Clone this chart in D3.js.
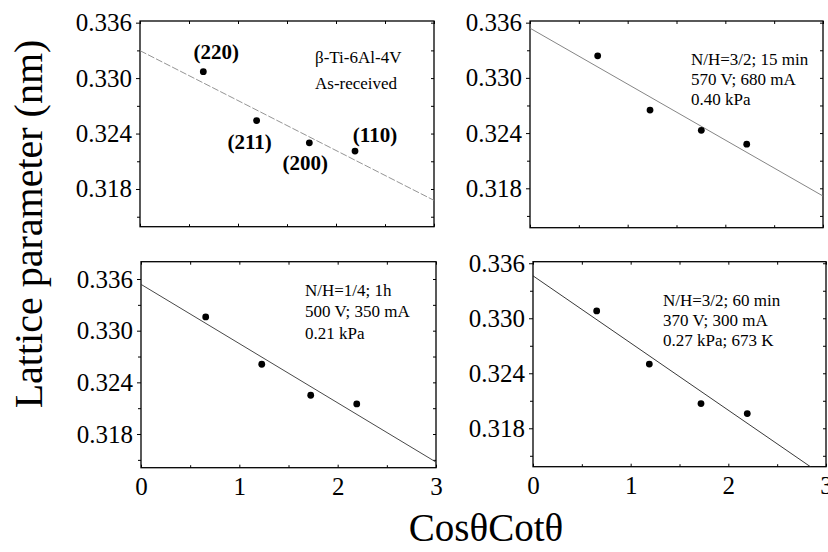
<!DOCTYPE html>
<html>
<head>
<meta charset="utf-8">
<script src="https://cdnjs.cloudflare.com/ajax/libs/d3/7.8.5/d3.min.js"></script>
<style>
  body { margin: 0; background: #fff; }
  svg text { font-family: "Liberation Serif", "Times New Roman", serif; fill: #000; }
</style>
</head>
<body>
<div id="chart"></div>
<script>
// tick values
var xTicks = [0, 1, 2, 3];
var xMinor = [0.5, 1.5, 2.5];
var yTicks = [0.318, 0.324, 0.330, 0.336];
var yMinor = [0.315, 0.321, 0.327, 0.333];

// reflections (only labelled in the as-received panel)
var hkl = ["(220)", "(211)", "(200)", "(110)"];

// CosθCotθ vs lattice parameter, one pair of arrays per sample
var xAsReceived = [0.646, 1.190, 1.728, 2.194];
var yAsReceived = [0.3307, 0.3254, 0.3230, 0.3221];
var x15min = [0.693, 1.229, 1.754, 2.219];
var y15min = [0.3324, 0.3265, 0.3243, 0.3228];
var x1h = [0.658, 1.228, 1.726, 2.194];
var y1h = [0.3316, 0.3261, 0.3225, 0.3215];
var x60min = [0.652, 1.191, 1.720, 2.194];
var y60min = [0.3308, 0.3250, 0.3207, 0.3196];

// linear fits: intercept at CosθCotθ = 0 and slope
var fitIntercept = [0.33297, 0.33540, 0.33538, 0.33463];
var fitSlope = [-0.00540, -0.00608, -0.00688, -0.00733];

// y ranges shown in each panel
var yLow = [0.31392, 0.31372, 0.31409, 0.31381];
var yHigh = [0.33618, 0.33618, 0.33801, 0.33617];

// panel notes
var noteAsReceived = ["β-Ti-6Al-4V", "As-received"];
var note15min = ["N/H=3/2; 15 min", "570 V; 680 mA", "0.40 kPa"];
var note1h = ["N/H=1/4; 1h", "500 V; 350 mA", "0.21 kPa"];
var note60min = ["N/H=3/2; 60 min", "370 V; 300 mA", "0.27 kPa; 673 K"];

var W = 828, H = 552;
var serif = "'Liberation Serif', 'Times New Roman', serif";

var svg = d3.select("#chart")
  .append("svg")
  .attr("width", W)
  .attr("height", H);

var panels = [
  {xs: xAsReceived, ys: yAsReceived, note: noteAsReceived,
   box: {l: 140, r: 434, t: 21, b: 226.7}, noteX: 175, noteY: 42, noteGap: 26,
   dash: "7,2", lineColor: "#888", labels: true, xLabels: false},
  {xs: x15min, ys: y15min, note: note15min,
   box: {l: 530, r: 823, t: 21, b: 227.7}, noteX: 161, noteY: 44, noteGap: 20,
   dash: null, lineColor: "#777", labels: false, xLabels: false},
  {xs: x1h, ys: y1h, note: note1h,
   box: {l: 141, r: 436, t: 261.7, b: 467.7}, noteX: 164, noteY: 34, noteGap: 21.5,
   dash: null, lineColor: "#333", labels: false, xLabels: true},
  {xs: x60min, ys: y60min, note: note60min,
   box: {l: 533, r: 826, t: 261.7, b: 466.7}, noteX: 130, noteY: 44, noteGap: 20,
   dash: null, lineColor: "#222", labels: false, xLabels: true}
];

// baseline offsets of the hkl labels from their dots (px)
var labelOffsets = [[13, -13], [-7, 28], [-4, 27], [20, -9]];

function cleanAxis(g) {
  g.attr("font-family", serif);
  g.select(".domain").remove();
  g.selectAll("line").attr("stroke", "#000").attr("stroke-width", 1);
}

panels.forEach(function(p, i) {
  var b = p.box;
  var x = d3.scaleLinear().domain([0, 3]).range([b.l, b.r]);
  var y = d3.scaleLinear().domain([yLow[i], yHigh[i]]).range([b.b, b.t]);

  var g = svg.append("g");

  svg.append("clipPath")
    .attr("id", "clip" + i)
    .append("rect")
    .attr("x", b.l).attr("y", b.t)
    .attr("width", b.r - b.l).attr("height", b.b - b.t);

  // left axis, labelled
  g.append("g")
    .attr("transform", "translate(" + b.l + ",0)")
    .call(d3.axisLeft(y).tickValues(yTicks).tickSize(4).tickPadding(4)
      .tickFormat(d3.format(".3f")))
    .call(cleanAxis)
    .selectAll("text")
    .style("font-size", "25px");

  g.append("g")
    .attr("transform", "translate(" + b.l + ",0)")
    .call(d3.axisLeft(y).tickValues(yMinor).tickSize(3).tickFormat(""))
    .call(cleanAxis);

  // right axis, inward ticks
  g.append("g")
    .attr("transform", "translate(" + b.r + ",0)")
    .call(d3.axisRight(y).tickValues(yTicks.concat(yMinor)).tickSize(-3).tickFormat(""))
    .call(cleanAxis);

  // top axis
  g.append("g")
    .attr("transform", "translate(0," + b.t + ")")
    .call(d3.axisTop(x).tickValues(xTicks.concat(xMinor)).tickSize(-3).tickFormat(""))
    .call(cleanAxis);

  // bottom axis
  g.append("g")
    .attr("transform", "translate(0," + b.b + ")")
    .call(d3.axisBottom(x).tickValues(xTicks).tickSize(-3).tickPadding(10)
      .tickFormat(p.xLabels ? d3.format("d") : ""))
    .call(cleanAxis)
    .selectAll("text")
    .style("font-size", "25px");

  g.append("g")
    .attr("transform", "translate(0," + b.b + ")")
    .call(d3.axisBottom(x).tickValues(xMinor).tickSize(-2.5).tickFormat(""))
    .call(cleanAxis);

  // frame
  g.append("rect")
    .attr("x", b.l).attr("y", b.t)
    .attr("width", b.r - b.l).attr("height", b.b - b.t)
    .attr("fill", "none")
    .attr("stroke", "#000")
    .attr("stroke-width", 1.3);

  // fitted line
  g.append("line")
    .attr("clip-path", "url(#clip" + i + ")")
    .attr("x1", x(0))
    .attr("y1", y(fitIntercept[i]))
    .attr("x2", x(3))
    .attr("y2", y(fitIntercept[i] + 3 * fitSlope[i]))
    .attr("stroke", p.lineColor)
    .attr("stroke-width", 0.9)
    .attr("stroke-dasharray", p.dash);

  // dots
  g.selectAll("circle")
    .data(p.xs)
    .enter().append("circle")
    .attr("cx", function(d) { return x(d); })
    .attr("cy", function(d, j) { return y(p.ys[j]); })
    .attr("r", 3.4)
    .attr("fill", "#000");

  if (p.labels) {
    g.selectAll(".hkl")
      .data(hkl)
      .enter().append("text")
      .attr("class", "hkl")
      .attr("x", function(d, j) { return x(p.xs[j]) + labelOffsets[j][0]; })
      .attr("y", function(d, j) { return y(p.ys[j]) + labelOffsets[j][1]; })
      .attr("text-anchor", "middle")
      .style("font-size", "21px")
      .style("font-weight", "bold")
      .text(function(d) { return d; });
  }

  g.selectAll(".note")
    .data(p.note)
    .enter().append("text")
    .attr("class", "note")
    .attr("x", b.l + p.noteX)
    .attr("y", function(d, j) { return b.t + p.noteY + j * p.noteGap; })
    .style("font-size", "17px")
    .text(function(d) { return d; });
});

// axis titles
svg.append("text")
  .attr("transform", "translate(42,224) rotate(-90)")
  .attr("text-anchor", "middle")
  .style("font-size", "40px")
  .text("Lattice parameter (nm)");

svg.append("text")
  .attr("x", 486)
  .attr("y", 541)
  .attr("text-anchor", "middle")
  .style("font-size", "39px")
  .text("CosθCotθ");
</script>
</body>
</html>
